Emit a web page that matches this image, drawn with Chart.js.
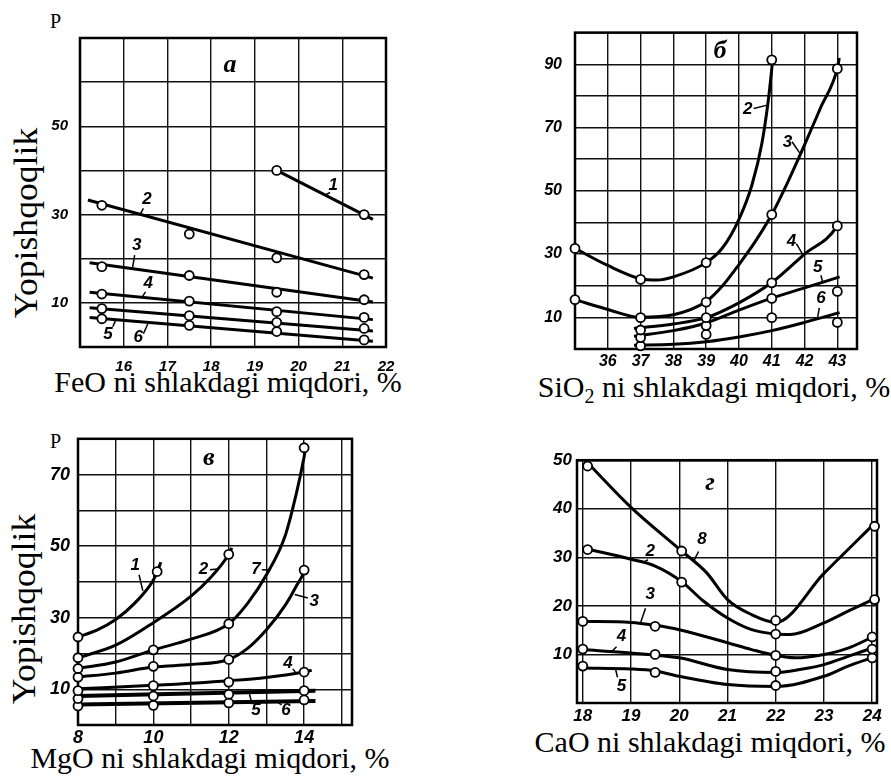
<!DOCTYPE html>
<html><head><meta charset="utf-8">
<script src="https://cdn.jsdelivr.net/npm/chart.js@4.4.1/dist/chart.umd.min.js"></script>
<style>
html,body{margin:0;padding:0;background:#fff;}
body{width:891px;height:783px;position:relative;overflow:hidden;color:#000;}
.sf{font-family:"Liberation Serif","Times New Roman",serif;}
canvas{position:absolute;}
.xt{position:absolute;white-space:nowrap;font-size:30px;line-height:30px;transform:translateX(-50%);}
.xt sub{font-size:20px;line-height:0;vertical-align:-6px;}
.yt{position:absolute;white-space:nowrap;font-size:33px;line-height:33px;transform:translate(-50%,-50%) rotate(-90deg) scaleX(1.08);}
.pp{position:absolute;font-size:20px;line-height:20px;}
</style></head><body>
<div class="pp sf" style="left:50px;top:11px">P</div>
<div class="pp sf" style="left:50px;top:431px">P</div>
<div class="yt sf" style="left:26px;top:223px">Yopishqoqlik</div>
<div class="yt sf" style="left:24px;top:609px">Yopishqoqlik</div>
<div class="xt sf" style="left:228px;top:367px">FeO ni shlakdagi miqdori, %</div>
<div class="xt sf" style="left:714px;top:372px">SiO<sub>2</sub> ni shlakdagi miqdori, %</div>
<div class="xt sf" style="left:210px;top:743px">MgO ni shlakdagi miqdori, %</div>
<div class="xt sf" style="left:710px;top:727px">CaO ni shlakdagi miqdori, %</div>
<script>
// ---------- Panel а : FeO ----------
const feoTickLabelsX = [16,17,18,19,20,21,22];
const feoTickLabelsY = [10,30,50];
const feoPointX = [15.5,17.5,19.5,21.5];
const feoP1 = [null,null,40,30];
const feoP2 = [32.1,25.6,20.2,16.4];
const feoP3 = [18.2,16.2,12.4,10.7];
const feoP4 = [12.0,10.4,8.0,6.7];
const feoP5 = [8.7,7.1,5.6,4.2];
const feoP6 = [6.4,4.9,3.5,1.6];
const feoLine1X = [19.5,21.7];
const feoLine2X = [15.18,21.7];
const feoLineX = [15.22,21.7];
const feoLine1 = [40,28.9];
const feoLine2 = [33.3,15.6];
const feoLine3 = [19.1,10.2];
const feoLine4 = [12.4,6.2];
const feoLine5 = [8.9,3.6];
const feoLine6 = [6.7,1.3];

// ---------- Panel б : SiO2 ----------
const sioTickLabelsX = [36,37,38,39,40,41,42,43];
const sioTickLabelsY = [10,30,50,70,90];
const sioPointX = [35,37,39,41,43];
const sioP2 = [31.8,22.0,27.3,91.4,null];
const sioP3 = [15.6,9.9,14.8,42.5,88.6];
const sioP4 = [null,6.0,9.9,20.9,38.9];
const sioP5 = [null,3.6,7.4,16.0,18.2];
const sioP6 = [null,1.0,4.6,9.9,8.4];
const sioC2X = [35,36,37,37.5,38,39,39.5,40,40.4,40.7,40.9,41.03];
const sioC2Y = [31.8,26.4,22.2,21.8,22.8,27.3,32,41,52,65,79,91.4];
const sioC3X = [35,36,37,38,39,39.5,40,40.5,41,41.5,42,42.5,43,43.06];
const sioC3Y = [15.6,12.5,10,10.8,15,20,26.7,34,42.5,53,64.5,76.5,88.6,92];
const sioC4X = [36.8,38,39,40,41,42,43,43.06];
const sioC4Y = [6.5,7.9,9.9,14.6,21,30,39,40.5];
const sioC5X = [36.8,38,39,40,41,42,43.07];
const sioC5Y = [4.0,5.8,8.2,12.3,16.1,19.3,22.8];
const sioC6X = [36.8,38,39,40,41,42,43.07];
const sioC6Y = [1.2,1.5,2.3,3.8,5.8,8.4,11.5];

// ---------- Panel в : MgO ----------
const mgoTickLabelsX = [8,10,12,14];
const mgoTickLabelsY = [10,30,50,70];
const mgoPointX = [8,10,12,14];
const mgoP1X = [8,10.1];
const mgoP1 = [24.6,42.9];
const mgoP2 = [18.8,null,47.7,null];
const mgoP7 = [15.8,21.0,28.3,77.5];
const mgoP3 = [13.4,16.4,18.3,43.3];
const mgoP4 = [9.6,11.0,12.0,14.8];
const mgoP5 = [7.4,8.1,8.6,9.6];
const mgoP6 = [5.3,5.5,6.2,7.0];
const mgoC1X = [8,8.5,9,9.5,10,10.1,10.2];
const mgoC1Y = [24.6,26.5,29.5,34,40.5,42.9,45.5];
const mgoC2X = [8,9,10,11,11.5,12,12.08];
const mgoC2Y = [18.8,22.3,28.6,36,41,47.7,49.5];
const mgoC7X = [8,9,10,11,12,12.5,13,13.5,13.8,14,14.05];
const mgoC7Y = [15.8,17.6,21,24,28.3,34,42,53,65,75,78];
const mgoC3X = [8,9,10,11,12,12.5,13,13.5,13.8,14,14.02];
const mgoC3Y = [13.4,14.5,16.2,16.9,18.3,21.4,26.6,33.5,39,43.3,44.5];
const mgoC4X = [8,10,12,13,14,14.2];
const mgoC4Y = [10.1,11.1,12.4,13.3,14.8,15.3];
const mgoC5X = [8,14.3];
const mgoC5Y = [8.1,9.6];
const mgoC6X = [8,14.3];
const mgoC6Y = [5.7,6.7];

// ---------- Panel г : CaO ----------
const caoTickLabelsX = [18,19,20,21,22,23,24];
const caoTickLabelsY = [10,20,30,40,50];
const caoMarkXHigh = [18.1,20.05,22,24.05];
const caoMarkXLow = [18,19.5,22,24];
const caoP8 = [48.8,31.3,17,36.4];
const caoP2 = [31.6,24.9,14.2,21.3];
const caoP3 = [16.8,15.8,9.8,13.6];
const caoP4 = [11.1,10,6.5,11.1];
const caoP5 = [7.6,6.3,3.6,9.3];
const caoC8X = [18.05,19,20.05,20.57,21,21.5,22,23,24.05];
const caoC8Y = [50,40.3,31.3,26.8,21.3,18.2,16.6,26.7,37];
const caoC2X = [18.05,19,19.5,20.05,20.5,21,21.5,22,22.3,23,23.5,24.05];
const caoC2Y = [31.8,29.6,28.2,25,21,17.5,15.1,14.2,14.1,16.5,18.9,21.5];
const caoC3X = [18,19,19.5,20,21,21.5,22,22.4,23,23.5,24.05];
const caoC3Y = [16.8,16.6,16,15.1,12.4,11,9.8,9.3,10,11.3,13.8];
const caoC4X = [18,19,20,21,22,22.5,23,23.5,24.05];
const caoC4Y = [11,10.3,9.3,6.9,6.3,6.9,7.9,9.6,11.5];
const caoC5X = [18,19,19.5,20,21,22,23,23.5,24.05];
const caoC5Y = [7.2,7,6.6,5.5,3.8,3.4,5.5,7.6,9.5];

// ---------- drawing ----------
const NUM_FONT = "'Liberation Sans','DejaVu Sans Condensed',sans-serif";
const NOTE_FONT = "italic bold 17px 'Liberation Sans','DejaVu Sans',sans-serif";
const LETTER_FONT = "italic bold 26px 'Liberation Serif','DejaVu Serif',serif";

function pairs(xs, ys){ return xs.map((x,i)=>({x:x, y:ys[i]})).filter(p=>p.y!==null); }
function labelCb(list){ return v => list.some(t=>Math.abs(t-v)<1e-6) ? String(Math.round(v)) : ''; }

const framePlugin = {id:'frame', beforeDatasetsDraw(chart){
  const {ctx, chartArea:a} = chart; ctx.save(); ctx.strokeStyle='#000'; ctx.lineWidth=2.5;
  ctx.strokeRect(a.left, a.top, a.right-a.left, a.bottom-a.top); ctx.restore(); }};

function notesPlugin(notes){
  return {id:'notes', afterDatasetsDraw(chart){
    const {ctx, scales:{x, y}} = chart; ctx.save(); ctx.fillStyle='#000'; ctx.strokeStyle='#000';
    ctx.textAlign='center'; ctx.textBaseline='middle';
    notes.forEach(n=>{
      ctx.font = n.letter ? LETTER_FONT : NOTE_FONT;
      ctx.fillText(n.t, x.getPixelForValue(n.x), y.getPixelForValue(n.y));
      if(n.lead){ ctx.beginPath(); ctx.lineWidth=1.5;
        ctx.moveTo(x.getPixelForValue(n.lead[0]), y.getPixelForValue(n.lead[1]));
        ctx.lineTo(x.getPixelForValue(n.lead[2]), y.getPixelForValue(n.lead[3])); ctx.stroke(); }
    });
    ctx.restore(); }};
}

function buildPanel(p){
  const YW = 60, XH = 40, PT = 15, PR = 25;
  const c = document.createElement('canvas');
  const w = p.R - p.L + YW + PR, h = p.B - p.T + PT + XH;
  c.width = w; c.height = h;
  c.style.left = (p.L - YW)+'px'; c.style.top = (p.T - PT)+'px';
  c.style.width = w+'px'; c.style.height = h+'px';
  document.body.appendChild(c);
  const datasets = [];
  p.curves.forEach(cv => datasets.push({type:'line', data:pairs(cv.x, cv.y), borderColor:'#000',
    borderWidth: cv.w || 3, pointRadius:0, fill:false, tension:0,
    cubicInterpolationMode: cv.smooth ? 'monotone' : 'default', order:2, clip:4}));
  p.marks.forEach(m => datasets.push({type:'scatter', data:pairs(m.x, m.y), pointRadius:4.5,
    pointBackgroundColor:'#fff', pointBorderColor:'#000', pointBorderWidth:1.8, showLine:false, order:1, clip:10}));
  const tickFont = {family:NUM_FONT, style:'italic', weight:'bold', size:p.fs};
  new Chart(c, {
    type:'scatter',
    data:{datasets},
    options:{
      responsive:false, animation:false, devicePixelRatio:1,
      layout:{padding:{left:0, top:PT, right:PR, bottom:0}},
      plugins:{legend:{display:false}, tooltip:{enabled:false}},
      scales:{
        x:{type:'linear', min:p.xMin, max:p.xMax, afterFit(a){a.height = XH;},
          ticks:{stepSize:1, includeBounds:false, autoSkip:false, maxRotation:0, minRotation:0,
                 padding:p.xPad, color:'#000', font:tickFont, callback:labelCb(p.xLabels)},
          grid:{color:'#111', lineWidth:1.4, drawTicks:false}, border:{display:false}},
        y:{type:'linear', min:p.yMin, max:p.yMax, afterFit(a){a.width = YW;},
          ticks:{stepSize:10, includeBounds:false, autoSkip:false, padding:p.yPad, color:'#000',
                 font:tickFont, callback:labelCb(p.yLabels)},
          grid:{color:'#111', lineWidth:1.4, drawTicks:false}, border:{display:false}}
      }
    },
    plugins:[framePlugin, notesPlugin(p.notes)]
  });
}

buildPanel({L:80, T:32, R:386, B:347, xMin:15, xMax:22, yMin:0, yMax:70, fs:15, xPad:11, yPad:12,
  xLabels:feoTickLabelsX, yLabels:feoTickLabelsY,
  curves:[{x:feoLine1X,y:feoLine1},{x:feoLine2X,y:feoLine2},{x:feoLineX,y:feoLine3},
          {x:feoLineX,y:feoLine4},{x:feoLineX,y:feoLine5},{x:feoLineX,y:feoLine6}],
  marks:[{x:feoPointX,y:feoP1},{x:feoPointX,y:feoP2},{x:feoPointX,y:feoP3},
         {x:feoPointX,y:feoP4},{x:feoPointX,y:feoP5},{x:feoPointX,y:feoP6}],
  notes:[{t:'а',x:18.43,y:63.8,letter:true},
         {t:'1',x:20.79,y:36.6,lead:[20.72,35.0,20.6,34.4]},
         {t:'2',x:16.53,y:33.4,lead:[16.45,31.4,16.38,30.1]},
         {t:'3',x:16.3,y:23.0,lead:[16.25,20.8,16.2,17.8]},
         {t:'4',x:16.56,y:14.5,lead:[16.5,12.5,16.42,11.3]},
         {t:'5',x:15.64,y:2.9,lead:[15.75,4.6,15.82,6.2]},
         {t:'6',x:16.33,y:2.2,lead:[16.45,3.0,16.55,5.2]}]
});

buildPanel({L:575, T:25, R:857, B:349, xMin:35, xMax:43.6, yMin:0, yMax:100, fs:16, xPad:3, yPad:13,
  xLabels:sioTickLabelsX, yLabels:sioTickLabelsY,
  curves:[{x:sioC2X,y:sioC2Y,smooth:true},{x:sioC3X,y:sioC3Y,smooth:true},{x:sioC4X,y:sioC4Y,smooth:true},
          {x:sioC5X,y:sioC5Y,smooth:true},{x:sioC6X,y:sioC6Y,smooth:true}],
  marks:[{x:sioPointX,y:sioP2},{x:sioPointX,y:sioP3},{x:sioPointX,y:sioP4},{x:sioPointX,y:sioP5},{x:sioPointX,y:sioP6}],
  notes:[{t:'б',x:39.42,y:94,letter:true},
         {t:'2',x:40.27,y:75.6,lead:[40.45,76,40.83,77]},
         {t:'3',x:41.48,y:65.3,lead:[41.62,65.5,41.85,62]},
         {t:'4',x:41.6,y:34,lead:[41.75,33.3,41.95,29.8]},
         {t:'5',x:42.4,y:25.8,lead:[42.5,23.3,42.55,21.2]},
         {t:'6',x:42.5,y:16,lead:[42.45,13,42.4,10]}]
});

buildPanel({L:78, T:435, R:352, B:725, xMin:8, xMax:15.27, yMin:0, yMax:80, fs:18, xPad:2, yPad:8,
  xLabels:mgoTickLabelsX, yLabels:mgoTickLabelsY,
  curves:[{x:mgoC1X,y:mgoC1Y,smooth:true},{x:mgoC2X,y:mgoC2Y,smooth:true},{x:mgoC7X,y:mgoC7Y,smooth:true},
          {x:mgoC3X,y:mgoC3Y,smooth:true},{x:mgoC4X,y:mgoC4Y,smooth:true},
          {x:mgoC5X,y:mgoC5Y,w:4},{x:mgoC6X,y:mgoC6Y,w:4}],
  marks:[{x:mgoP1X,y:mgoP1},{x:mgoPointX,y:mgoP2},{x:mgoPointX,y:mgoP7},{x:mgoPointX,y:mgoP3},
         {x:mgoPointX,y:mgoP4},{x:mgoPointX,y:mgoP5},{x:mgoPointX,y:mgoP6}],
  notes:[{t:'в',x:11.47,y:74.6,letter:true},
         {t:'1',x:9.52,y:44.5,lead:[9.62,42,9.72,37.5]},
         {t:'2',x:11.33,y:43.4,lead:[11.5,43.4,11.7,43.6]},
         {t:'7',x:12.72,y:43.4,lead:[12.88,43.4,13.05,43.3]},
         {t:'3',x:14.27,y:34.5,lead:[14.1,35.5,13.75,36.5]},
         {t:'4',x:13.57,y:17.2,lead:[13.7,15.7,13.8,14.3]},
         {t:'5',x:12.72,y:4.1,lead:[12.62,5.8,12.55,8.6]},
         {t:'6',x:13.52,y:4.1,lead:[13.4,5.6,13.3,6.4]}]
});

buildPanel({L:577, T:460, R:877, B:703, xMin:17.88, xMax:24.1, yMin:0, yMax:50, fs:17, xPad:3, yPad:5,
  xLabels:caoTickLabelsX, yLabels:caoTickLabelsY,
  curves:[{x:caoC8X,y:caoC8Y,smooth:true},{x:caoC2X,y:caoC2Y,smooth:true},{x:caoC3X,y:caoC3Y,smooth:true},
          {x:caoC4X,y:caoC4Y,smooth:true},{x:caoC5X,y:caoC5Y,smooth:true}],
  marks:[{x:caoMarkXHigh,y:caoP8},{x:caoMarkXHigh,y:caoP2},{x:caoMarkXLow,y:caoP3},
         {x:caoMarkXLow,y:caoP4},{x:caoMarkXLow,y:caoP5}],
  notes:[{t:'г',x:20.64,y:45.3,letter:true},
         {t:'8',x:20.47,y:33.7,lead:[20.4,31.2,20.3,29.2]},
         {t:'2',x:19.4,y:31.3,lead:[19.35,29.5,19.25,28.9]},
         {t:'3',x:19.4,y:22.3,lead:[19.3,19.5,19.2,16.6]},
         {t:'4',x:18.8,y:13.7,lead:[18.7,11.6,18.6,10.6]},
         {t:'5',x:18.8,y:3.4,lead:[18.72,5.3,18.68,6.9]}]
});
</script>
</body></html>
